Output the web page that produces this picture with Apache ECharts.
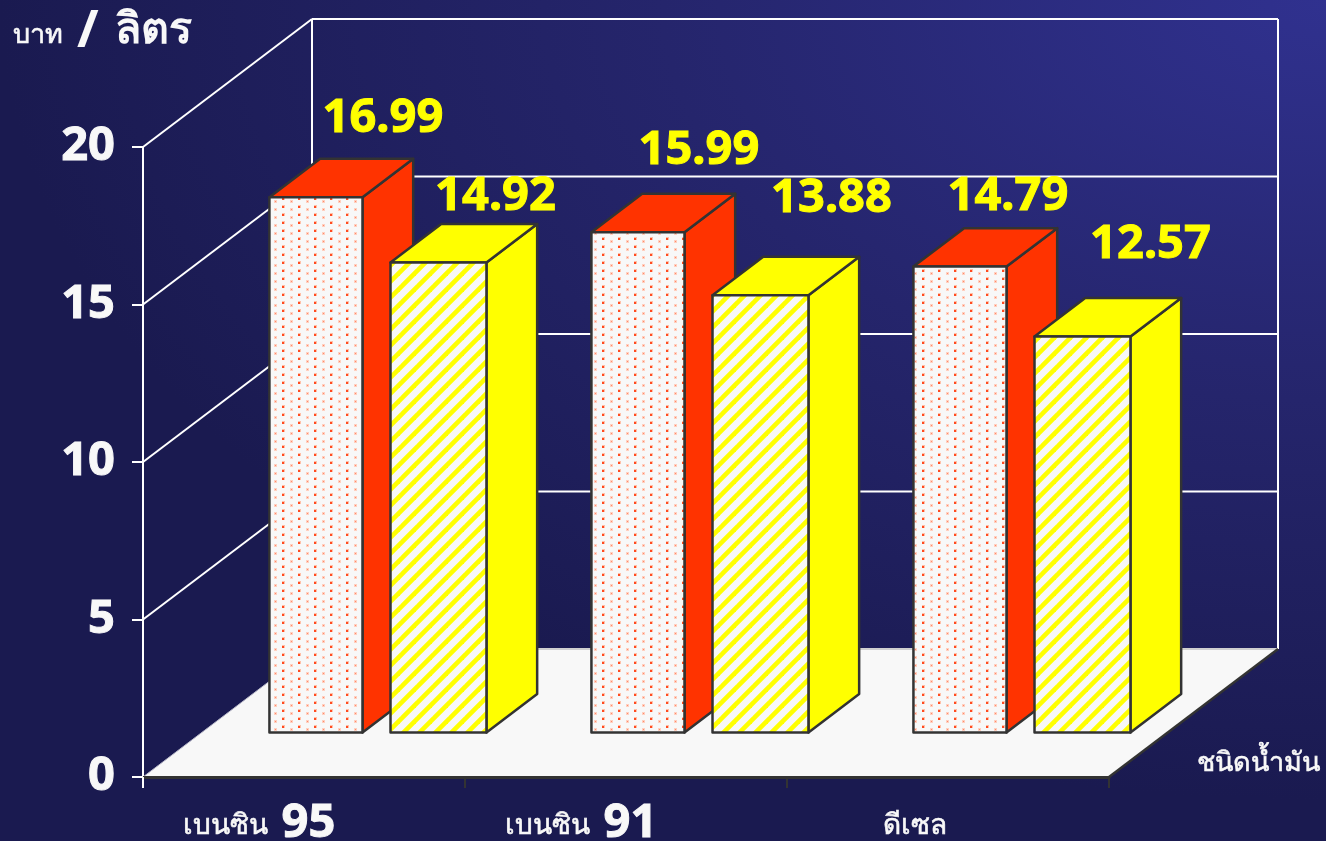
<!DOCTYPE html>
<html>
<head>
<meta charset="utf-8">
<title>ราคาน้ำมัน</title>
<script src="https://cdn.jsdelivr.net/npm/echarts@6/dist/echarts.min.js"></script>
<style>
  html, body { margin: 0; padding: 0; background: #1a1a50; }
  #main {
    width: 1326px;
    height: 841px;
    background: radial-gradient(ellipse 1326px 800px at 100% 0, #30318f 0%, #25256c 50%, #1a1a50 100%);
  }
</style>
</head>
<body>
<div id="main"></div>
<script>
var fuelTypes = ["เบนซิน 95", "เบนซิน 91", "ดีเซล"];
// bar heights as drawn; the 91 bar stands a little below its printed label
var redPrices = [16.99, 15.88, 14.79];
var redLabels = ["16.99", "15.99", "14.79"];
var yellowPrices = [14.92, 13.88, 12.57];
var yellowLabels = ["14.92", "13.88", "12.57"];
var priceTicks = [0, 5, 10, 15, 20];

// depth of the fake 3d box, in pixels
var DEPTH_X = 169;
var DEPTH_Y = 128;
var BAR_FRONT = 0.348;
var BAR_BACK = 0.648;
var FONT = '"DejaVu Sans", sans-serif';
var NUM_FONT = '"Noto Sans", "DejaVu Sans", sans-serif';
var LABEL_FONT = "bold 47px " + NUM_FONT;
var EDGE = "#333333";
var INK = "#f8f8f8";

// value labels sit by hand in the original, so each has its own nudge
var redLabelNudge = [[67, -79], [61, -82], [48, -70]];
var yellowLabelNudge = [[57, -66], [71, -97], [68, -92]];

function project(pt, depth) {
  return [pt[0] + depth * DEPTH_X, pt[1] - depth * DEPTH_Y];
}

function dotTile() {
  var c = document.createElement("canvas");
  c.width = 16;
  c.height = 8;
  var g = c.getContext("2d");
  g.fillStyle = "#f8f8f8";
  g.fillRect(0, 0, 16, 8);
  // soft dot
  g.fillStyle = "#ffd0c0";
  g.fillRect(2, 0, 3, 3);
  g.fillStyle = "#ff8a6c";
  g.fillRect(3, 1, 1, 1);
  // sharper dot, half a step over
  g.fillStyle = "#ffc0a8";
  g.fillRect(10, 5, 3, 3);
  g.fillStyle = "#ff4a20";
  g.fillRect(10, 6, 2, 2);
  return c;
}

function stripeTile() {
  var c = document.createElement("canvas");
  c.width = 16;
  c.height = 16;
  var g = c.getContext("2d");
  g.fillStyle = "#f8f8f8";
  g.fillRect(0, 0, 16, 16);
  g.strokeStyle = "#ffff00";
  g.lineWidth = 4.6;
  [0, 16, 32].forEach(function (s) {
    g.beginPath();
    g.moveTo(s + 2, -2);
    g.lineTo(s - 18, 18);
    g.stroke();
  });
  return c;
}

function poly(points, fill) {
  return {
    type: "polygon",
    shape: { points: points },
    style: { fill: fill, stroke: EDGE, lineWidth: 2.5, lineJoin: "round" }
  };
}

function seg(a, b, color, width) {
  return {
    type: "line",
    shape: { x1: a[0], y1: a[1], x2: b[0], y2: b[1] },
    style: { stroke: color, lineWidth: width }
  };
}

function renderFrame(params, api) {
  var box = params.coordSys;
  var left = box.x;
  var right = box.x + box.width;
  var kids = [];
  priceTicks.forEach(function (t) {
    var y = api.coord([0, t])[1];
    var back = project([left, y], 1);
    if (t > 0) {
      kids.push(seg([left, y], back, "#ffffff", 2));
    }
    kids.push(seg(back, project([right, y], 1), "#ffffff", 2));
  });
  var top = api.coord([0, priceTicks[4]])[1];
  var base = api.coord([0, 0])[1];
  kids.push(seg(project([left, top], 1), project([left, base], 1), "#ffffff", 2));
  kids.push(seg(project([right, top], 1), project([right, base], 1), "#ffffff", 2));
  kids.push({
    type: "polygon",
    shape: {
      points: [[left, base], [right, base], project([right, base], 1), project([left, base], 1)]
    },
    style: { fill: "#f8f8f8" }
  });
  kids.push(seg(project([left, base], 1), project([right, base], 1), "#d0d0d0", 2));
  kids.push(seg([left, base], project([left, base], 1), "#b8b8c8", 1));
  kids.push(seg([right, base], project([right, base], 1), EDGE, 2.5));
  return { type: "group", children: kids };
}

function renderStub(params, api) {
  var box = params.coordSys;
  var base = api.coord([0, 0])[1];
  return seg([box.x, base], [box.x, base + 11], "#ffffff", 2);
}

function barRenderer(x0, x1, sideColor, frontFill, labels, nudges) {
  return function (params, api) {
    var band = api.size([1, 0])[0];
    var mid = api.coord([api.value(0), 0])[0];
    var base = api.coord([api.value(0), 0])[1];
    var top = api.coord([api.value(0), api.value(1)])[1];
    var a = [mid + band * x0, top];
    var b = [mid + band * x1, top];
    var c = [mid + band * x1, base];
    var d = [mid + band * x0, base];
    var n = nudges[params.dataIndex];
    var f = project([(a[0] + b[0]) / 2, top], BAR_FRONT);
    return {
      type: "group",
      children: [
        poly([project(b, BAR_FRONT), project(b, BAR_BACK), project(c, BAR_BACK), project(c, BAR_FRONT)], sideColor),
        poly([project(a, BAR_FRONT), project(a, BAR_BACK), project(b, BAR_BACK), project(b, BAR_FRONT)], sideColor),
        poly([project(a, BAR_FRONT), project(b, BAR_FRONT), project(c, BAR_FRONT), project(d, BAR_FRONT)], frontFill),
        {
          type: "text",
          x: f[0] + n[0],
          y: f[1] + n[1],
          style: {
            text: labels[params.dataIndex],
            fill: "#ffff00",
            stroke: "#ffff00",
            lineWidth: 1,
            font: LABEL_FONT,
            align: "center",
            verticalAlign: "middle"
          }
        }
      ]
    };
  };
}

var myChart = echarts.init(document.getElementById("main"), null, { renderer: "canvas" });

myChart.setOption({
  animation: false,
  title: {
    left: 8,
    top: 1,
    text: "{th|บาท}{slash|/}{big|ลิตร}",
    textStyle: {
      rich: {
        th: { fontSize: 27, fontWeight: "normal", color: INK, fontFamily: FONT, textBorderColor: INK, textBorderWidth: 0.6, padding: [8, 14, 0, 0] },
        slash: { fontSize: 52, fontWeight: "bold", color: INK, fontFamily: NUM_FONT, padding: [0, 16, 0, 0] },
        big: { fontSize: 43, fontWeight: "bold", color: INK, fontFamily: FONT }
      }
    }
  },
  grid: { left: 143, right: 217, top: 147, bottom: 64, outerBoundsMode: "none" },
  xAxis: {
    type: "category",
    z: 3,
    data: fuelTypes,
    name: "ชนิดน้ำมัน",
    nameLocation: "end",
    nameGap: 88,
    nameTextStyle: {
      color: INK,
      fontSize: 27,
      fontFamily: FONT,
      textBorderColor: INK,
      textBorderWidth: 0.6,
      align: "left",
      verticalAlign: "bottom"
    },
    axisLine: { lineStyle: { color: EDGE, width: 3 } },
    axisTick: { show: true, length: 11, lineStyle: { color: EDGE, width: 2 } },
    axisLabel: {
      interval: 0,
      margin: 22,
      formatter: function (value) {
        var parts = value.split(" ");
        if (parts.length > 1) {
          return "{th|" + parts[0] + "}{num|" + parts[1] + "}";
        }
        return "{th3|" + value + "}";
      },
      rich: {
        th: { fontSize: 28, color: INK, fontFamily: FONT, textBorderColor: INK, textBorderWidth: 0.6, lineHeight: 50, padding: [6, 14, 0, 0] },
        th3: { fontSize: 28, color: INK, fontFamily: FONT, textBorderColor: INK, textBorderWidth: 0.6, lineHeight: 50, padding: [6, 66, 0, 0] },
        num: { fontSize: 47, fontWeight: "bold", color: INK, fontFamily: NUM_FONT, textBorderColor: INK, textBorderWidth: 1, lineHeight: 50, padding: [0, 90, 0, 0] }
      }
    }
  },
  yAxis: {
    type: "value",
    z: 3,
    min: 0,
    max: 20,
    interval: 5,
    splitLine: { show: false },
    axisLine: { show: true, lineStyle: { color: "#ffffff", width: 2 } },
    axisTick: { show: true, length: 11, lineStyle: { color: "#ffffff", width: 2 } },
    axisLabel: {
      margin: 28,
      color: INK,
      fontSize: 47,
      fontWeight: "bold",
      fontFamily: NUM_FONT,
      textBorderColor: INK,
      textBorderWidth: 1
    }
  },
  series: [
    { type: "custom", name: "frame", z: 2, silent: true, data: [[0, 0]], renderItem: renderFrame },
    { type: "custom", name: "stub", z: 4, silent: true, data: [[0, 0]], renderItem: renderStub },
    {
      type: "custom",
      name: "red",
      z: 5,
      data: redPrices.map(function (v, i) { return [i, v]; }),
      renderItem: barRenderer(-0.29, -0.001, "#ff3300", { image: dotTile(), repeat: "repeat" }, redLabels, redLabelNudge)
    },
    {
      type: "custom",
      name: "yellow",
      z: 6,
      data: yellowPrices.map(function (v, i) { return [i, v]; }),
      renderItem: barRenderer(0.086, 0.384, "#ffff00", { image: stripeTile(), repeat: "repeat" }, yellowLabels, yellowLabelNudge)
    }
  ]
});
</script>
</body>
</html>
